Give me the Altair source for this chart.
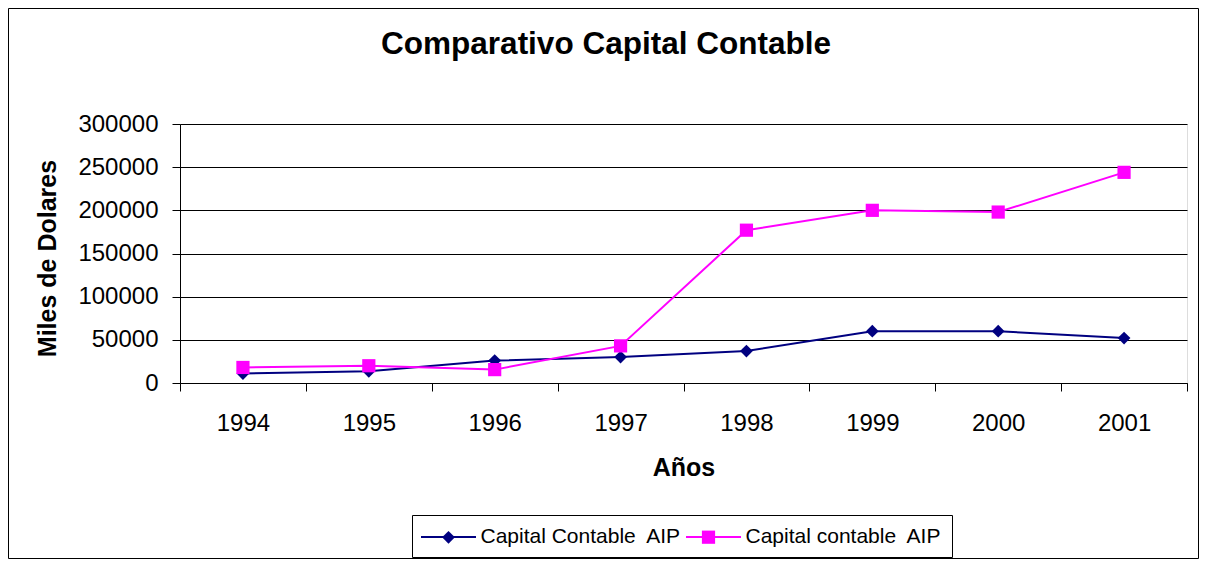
import altair as alt
import pandas as pd

years = ["1994", "1995", "1996", "1997", "1998", "1999", "2000", "2001"]
series_names = ["Capital Contable\u00a0 AIP", "Capital contable\u00a0 AIP"]
serie_1 = [11000, 13500, 26000, 30000, 37000, 60000, 60000, 52000]
serie_2 = [18000, 20000, 15500, 43000, 177000, 200000, 198000, 244000]
colors = ["#000080", "#FF00FF"]
y_ticks = [0, 50000, 100000, 150000, 200000, 250000, 300000]

rows = []
for name, vals in zip(series_names, [serie_1, serie_2]):
    for yr, v in zip(years, vals):
        rows.append({"year": yr, "value": v, "series": name})
df = pd.DataFrame(rows)

FONT = "Liberation Sans"
SYM = 484  # sqrt = 22 px, unit = 11 px
diamond = "M0,-0.58L0.58,0L0,0.58L-0.58,0Z"
square = "M-0.6,-0.6L0.6,-0.6L0.6,0.6L-0.6,0.6Z"
line_sym = "M-2.5,0L2.5,0"

x_axis = alt.Axis(
    title="Años", titleFontSize=25, titleFontWeight="bold", titleFont=FONT,
    titleColor="black", titleY=92, titleBaseline="alphabetic",
    labelAngle=0, labelFontSize=24, labelFont=FONT, labelColor="black",
    labelBaseline="alphabetic", labelPadding=39,
    tickSize=8, tickBand="extent", tickColor="black", grid=False,
    domainColor="black",
)
y_axis = alt.Axis(
    title="Miles de Dolares", titleFontSize=25, titleFontWeight="bold",
    titleFont=FONT, titleColor="black", titleAngle=270, titleX=-125, titleY=134,
    titleBaseline="alphabetic", titleAlign="center",
    values=y_ticks, format="d", labelFontSize=24, labelFont=FONT,
    labelColor="black", labelPadding=14, tickSize=8, tickColor="black",
    grid=True, gridColor="black", gridWidth=1, domainColor="black",
)

x_enc = alt.X("year:O", sort=years, bandPosition=0.5,
              scale=alt.Scale(type="band", paddingInner=0, paddingOuter=0),
              axis=x_axis)
y_enc = alt.Y("value:Q", scale=alt.Scale(domain=[0, 300000], nice=False), axis=y_axis)

legend_common = dict(
    orient="none", legendX=232, legendY=391, direction="horizontal", title=None,
    labelFont=FONT, labelFontSize=21, labelOffset=20, labelLimit=500,
    columnPadding=0, padding=10, symbolSize=SYM, symbolStrokeWidth=2,
    symbolOffset=14.5, columns=2,
)

legend_a = alt.Legend(symbolType=line_sym, strokeColor="black", fillColor="white",
                      labelColor="black", **legend_common)
legend_b = alt.Legend(labelOpacity=0, symbolStrokeColor="transparent", **legend_common)

border = alt.Chart(alt.Data(values=[{}])).mark_rect(
    fillOpacity=0, stroke="black", strokeWidth=1
).encode(
    x=alt.value(-171.5), x2=alt.value(1018.5), y=alt.value(-115.5), y2=alt.value(434.5)
)

lines = alt.Chart(df).mark_line(strokeWidth=2).encode(
    x=x_enc, y=y_enc,
    color=alt.Color("series:N", scale=alt.Scale(domain=series_names, range=colors),
                    legend=legend_a),
)

points = alt.Chart(df).mark_point(filled=True, size=SYM, opacity=1).encode(
    x=x_enc, y=y_enc,
    color=alt.Color("series:N", scale=alt.Scale(domain=series_names, range=colors),
                    legend=legend_b),
    shape=alt.Shape("series:N", scale=alt.Scale(domain=series_names, range=[diamond, square]),
                    legend=legend_b),
)

chart = alt.layer(border, lines, points).resolve_scale(
    color="independent", shape="independent"
).properties(
    width=1007, height=259,
    autosize=alt.AutoSizeParams(type="none"),
    padding={"left": 172, "top": 116, "right": 12, "bottom": 176},
    title=alt.TitleParams(
        text="Comparativo Capital Contable", fontSize=31.5, font=FONT,
        fontWeight="bold", color="black", anchor="middle", frame="group",
        dx=-77.5, dy=77.5, baseline="alphabetic", offset=0,
    ),
).configure_view(stroke="#808080", fill="#C0C0C0").configure(background="white")

chart.save("out.html", embed_options={"renderer": "svg", "actions": False})
